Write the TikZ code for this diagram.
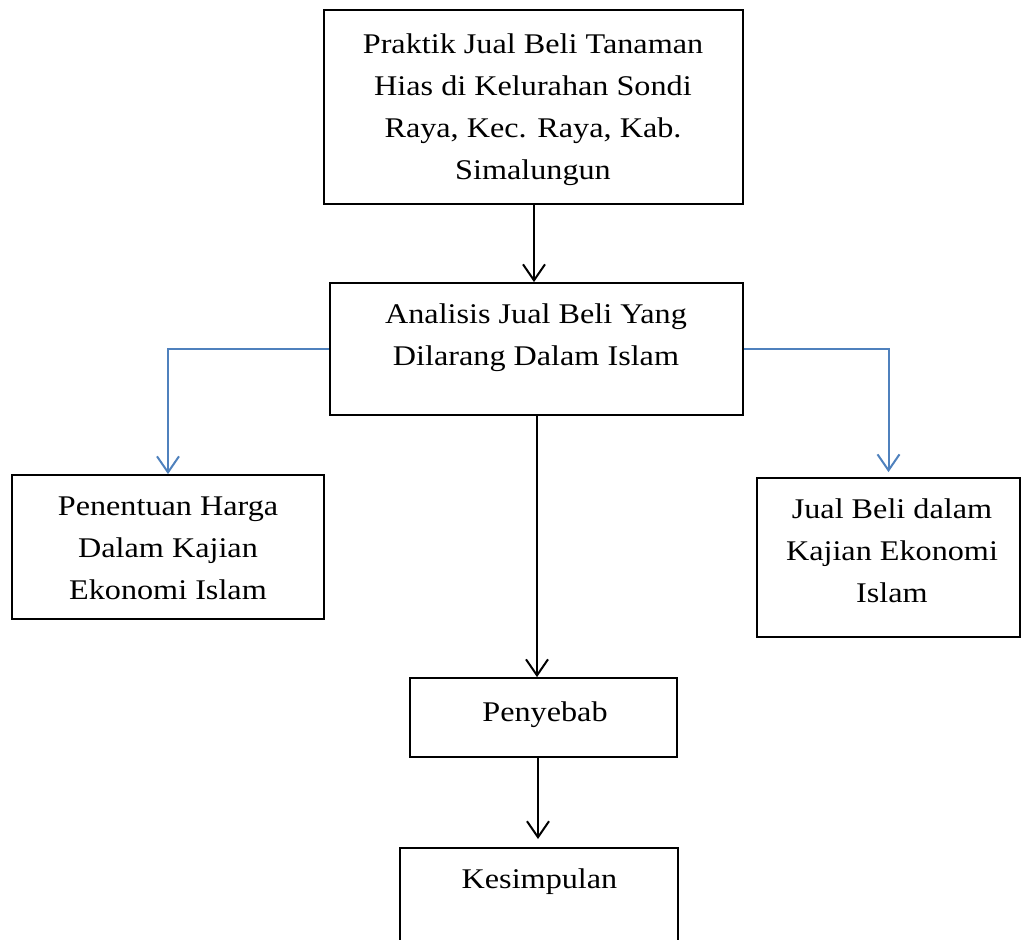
\documentclass[tikz,border=0pt]{standalone}
\usepackage{fontspec}
\setmainfont{Liberation Serif}[FakeStretch=1.13]
\usetikzlibrary{arrows.meta}
\definecolor{wordblue}{HTML}{4F81BD}
\begin{document}
\begin{tikzpicture}[x=1pt,y=-1pt,
  box/.style={draw=black, line width=1.8pt, inner sep=0pt},
  txt/.style={inner sep=0pt, align=center, font=\fontsize{28.5pt}{42pt}\selectfont},
  blackarrow/.style={draw=black, line width=2pt, -{Straight Barb[length=16pt,width=22pt,line width=2pt]}},
  bluearrow/.style={draw=wordblue, line width=2pt, -{Straight Barb[length=16pt,width=22pt,line width=2pt]}}]
\useasboundingbox (0,0) rectangle (1021,940);
% boxes
\node[box, minimum width=419pt, minimum height=194pt] (top) at (533.5,107) {};
\node[box, minimum width=413pt, minimum height=132pt] (ana) at (536.5,349) {};
\node[box, minimum width=312pt, minimum height=144pt] (left) at (168,547) {};
\node[box, minimum width=263pt, minimum height=159pt] (right) at (888.5,557.5) {};
\node[box, minimum width=267pt, minimum height=79pt] (pen) at (543.5,717.5) {};
\node[box, minimum width=278pt, minimum height=130pt] (kes) at (539,913) {};
% texts
\node[txt, anchor=north] (toptext) at (533,33.5) {Praktik Jual Beli Tanaman\\Hias di Kelurahan Sondi\\Raya, Kec. Raya, Kab.\\Simalungun};
\node[txt, anchor=north] (anatext) at (536,303.5) {Analisis Jual Beli Yang\\Dilarang Dalam Islam};
\node[txt, anchor=north] (lefttext) at (168,496.5) {Penentuan Harga\\Dalam Kajian\\Ekonomi Islam};
\node[txt, anchor=north] (righttext) at (892,498.5) {Jual Beli dalam\\Kajian Ekonomi\\Islam};
\node[txt, anchor=base] (pentext) at (545,721) {Penyebab};
\node[txt, anchor=base] (kestext) at (539.5,888) {Kesimpulan};
% connectors
\draw[blackarrow] (top.south -| 534,0) -- (ana.north -| 534,0);
\draw[bluearrow] (ana.west) -| (left.north);
\draw[bluearrow] (ana.east) -| ([yshift=5pt]right.north);
\draw[blackarrow] (ana.south -| 537,0) -- (pen.north -| 537,0);
\coordinate (kesin) at (538,839);
\draw[blackarrow] (pen.south -| kesin) -- (kesin);
\end{tikzpicture}
\end{document}
